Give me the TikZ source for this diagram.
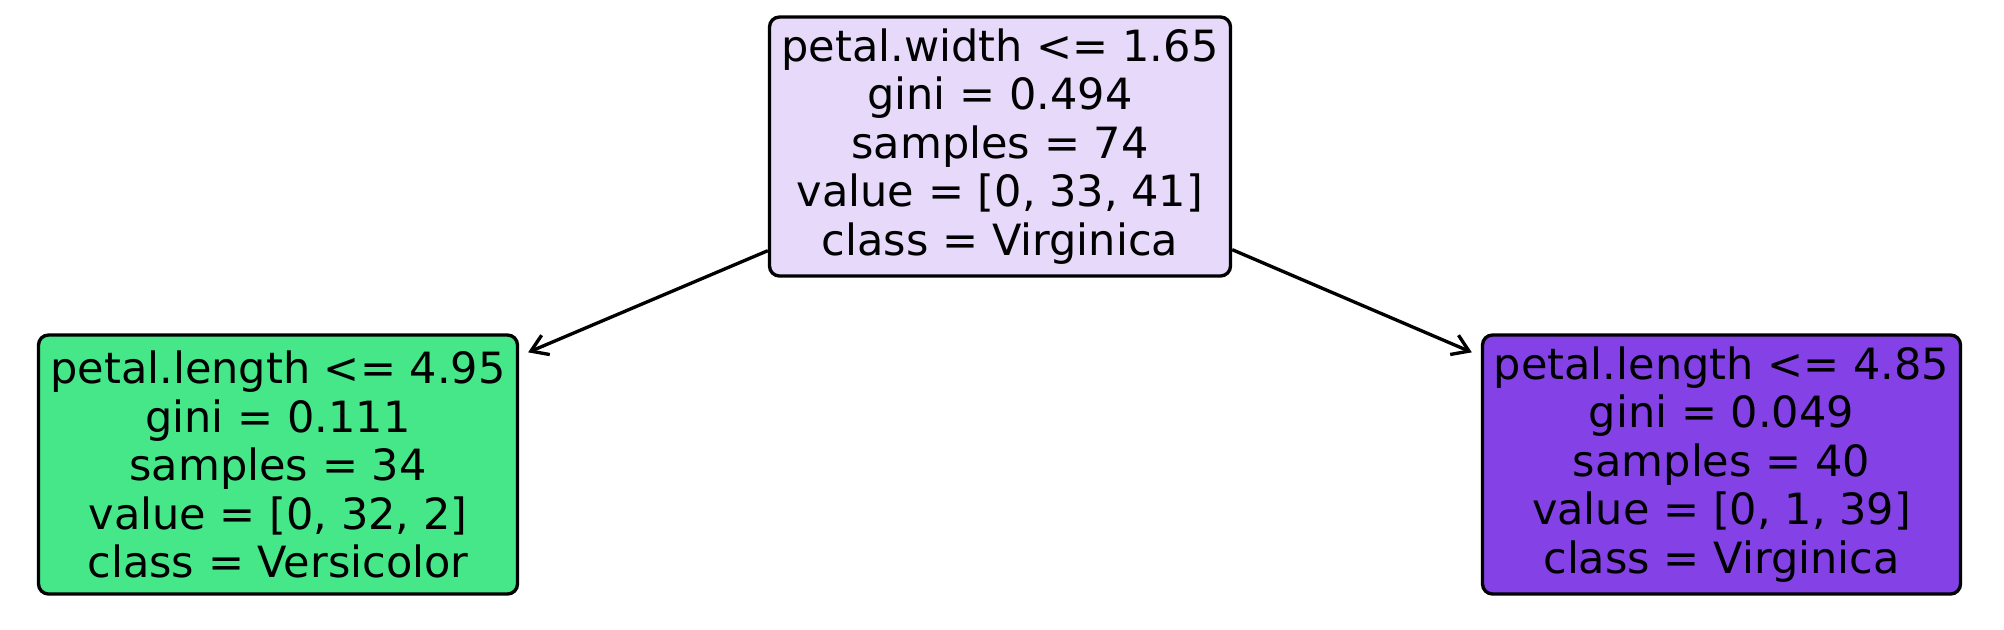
\documentclass[tikz,border=0pt]{standalone}
\usepackage{fontspec}
\setmainfont{DejaVu Sans}
\usetikzlibrary{arrows.meta}
\definecolor{rootfill}{RGB}{230,217,250}
\definecolor{versifill}{RGB}{69,231,137}
\definecolor{virgifill}{RGB}{132,66,230}
\begin{document}
\begin{tikzpicture}[
    treenode/.style = {draw=black, line width=1.9pt, rounded corners=0.2cm,
        align=center, inner sep=0pt, minimum height=5.18cm,
        font=\fontsize{24.5}{27.6}\selectfont},
    edge/.style = {line width=1.9pt, -{Straight Barb[length=0.32cm,width=0.42cm,line width=1.9pt]}}
  ]
    \useasboundingbox (0,0) rectangle (40.08,-12.58);
    \node[treenode, fill=rootfill, minimum width=9.22cm] (wurzel) at (20.0,-2.93)
        {petal.width <= 1.65\\gini = 0.494\\samples = 74\\value = [0, 33, 41]\\class = Virginica};
    \node[treenode, fill=versifill, minimum width=9.58cm] (links) at (5.56,-9.29)
        {petal.length <= 4.95\\gini = 0.111\\samples = 34\\value = [0, 32, 2]\\class = Versicolor};
    \node[treenode, fill=virgifill, minimum width=9.56cm] (rechts) at (34.43,-9.29)
        {petal.length <= 4.85\\gini = 0.049\\samples = 40\\value = [0, 1, 39]\\class = Virginica};
    \draw[edge] ([yshift=0.54cm]wurzel.south west) -- ([xshift=0.18cm,yshift=-0.38cm]links.north east);
    \draw[edge] ([yshift=0.56cm]wurzel.south east) -- ([xshift=-0.18cm,yshift=-0.38cm]rechts.north west);
\end{tikzpicture}
\end{document}
